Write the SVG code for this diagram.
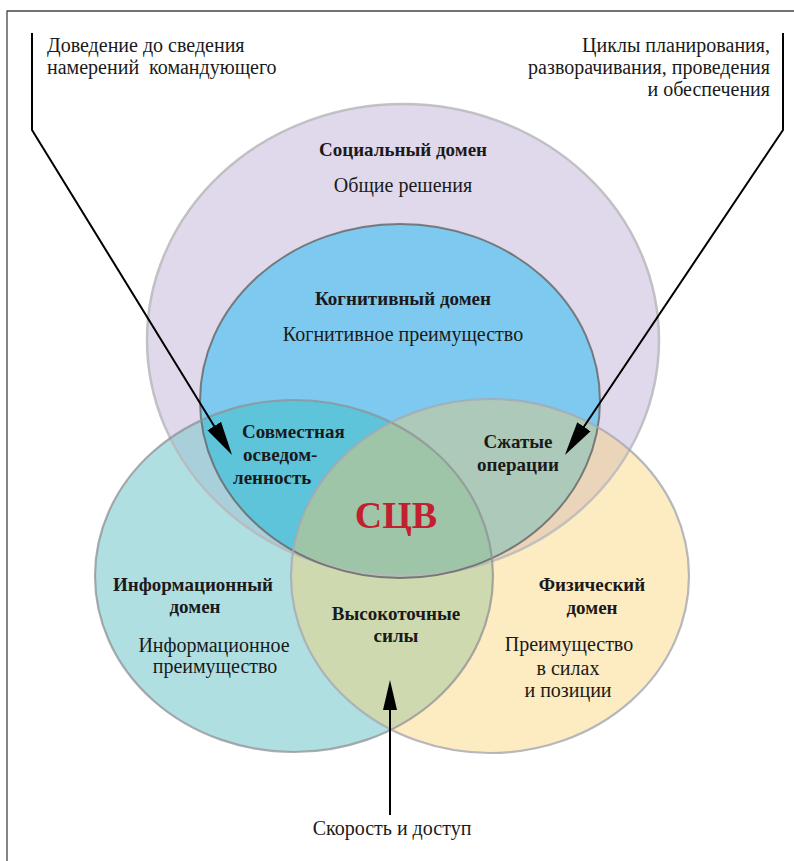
<svg xmlns="http://www.w3.org/2000/svg" width="794" height="861" viewBox="0 0 794 861" font-family="'Liberation Serif', 'DejaVu Serif', serif">
<style>
text{font-family:"Liberation Serif","DejaVu Serif",serif;fill:#1a1a1a;}
.b{font-weight:bold;font-size:19px;}
.r{font-size:20px;}
.m{text-anchor:middle;}
.e{text-anchor:end;}
.ncw{font-weight:bold;font-size:38px;fill:#c21f30;text-anchor:middle;}
.edge{fill:none;}
.conn{fill:none;stroke:#000;stroke-width:2;}
</style>
<defs>
<clipPath id="cInfo"><ellipse cx="294" cy="576" rx="199" ry="176"/></clipPath>
<clipPath id="cPhys"><ellipse cx="490" cy="576" rx="199" ry="177"/></clipPath>
<marker id="ah" markerUnits="userSpaceOnUse" markerWidth="36" markerHeight="18" refX="28" refY="9" orient="auto">
<path d="M0,1 L34,9 L0,17 z" fill="#000"/>
</marker>
<marker id="ahb" markerUnits="userSpaceOnUse" markerWidth="32" markerHeight="16" refX="20" refY="8" orient="auto">
<path d="M0,1 L30,8 L0,15 z" fill="#000"/>
</marker>
</defs>
<rect width="794" height="861" fill="#fff"/>
<path d="M7,861 V11 H794" fill="none" stroke="#444" stroke-width="1.3"/>

<g id="fills">
<ellipse cx="403" cy="340" rx="256" ry="236" fill="#e0d8eb"/>
<ellipse cx="400" cy="401" rx="200" ry="177" fill="#7dc9ef"/>
<ellipse cx="294" cy="576" rx="199" ry="176" fill="#b0dfe2"/>
<ellipse cx="490" cy="576" rx="199" ry="177" fill="#fdebc1"/>
<ellipse cx="403" cy="340" rx="256" ry="236" fill="#a9cfdb" clip-path="url(#cInfo)"/>
<ellipse cx="403" cy="340" rx="256" ry="236" fill="#ebd5ba" clip-path="url(#cPhys)"/>
<ellipse cx="294" cy="576" rx="199" ry="176" fill="#cfd9b0" clip-path="url(#cPhys)"/>
<ellipse cx="400" cy="401" rx="200" ry="177" fill="#5ec4da" clip-path="url(#cInfo)"/>
<ellipse cx="400" cy="401" rx="200" ry="177" fill="#acc9b9" clip-path="url(#cPhys)"/>
<g clip-path="url(#cInfo)"><ellipse cx="400" cy="401" rx="200" ry="177" fill="#9fc5a9" clip-path="url(#cPhys)"/></g>
</g>

<g id="social">
<ellipse class="edge" cx="403" cy="340" rx="256" ry="236" stroke="#b9b9bc" stroke-width="2.5" stroke-opacity="0.85"/>
<text class="b m" x="403" y="156">Социальный домен</text>
<text class="r m" x="403" y="192">Общие решения</text>
</g>
<g id="cognitive">
<ellipse class="edge" cx="400" cy="401" rx="200" ry="177" stroke="#6a6a6a" stroke-width="2" stroke-opacity="0.85"/>
<text class="b m" x="403" y="305">Когнитивный домен</text>
<text class="r m" x="403" y="341">Когнитивное преимущество</text>
</g>
<g id="information">
<ellipse class="edge" cx="294" cy="576" rx="199" ry="176" stroke="#8f9094" stroke-width="2.2" stroke-opacity="0.75"/>
<text class="b m" x="193" y="591">Информационный</text>
<text class="b m" x="195" y="613">домен</text>
<text class="r m" x="214" y="652">Информационное</text>
<text class="r m" x="215" y="673">преимущество</text>
</g>
<g id="physical">
<ellipse class="edge" cx="490" cy="576" rx="199" ry="177" stroke="#a4a8b4" stroke-width="2.2" stroke-opacity="0.8"/>
<text class="b m" x="592" y="591">Физический</text>
<text class="b m" x="592" y="614">домен</text>
<text class="r m" x="569" y="651">Преимущество</text>
<text class="r m" x="568" y="675">в силах</text>
<text class="r m" x="568" y="697">и позиции</text>
</g>
<g id="shared-awareness">
<text class="b" x="242" y="438">Совместная</text>
<text class="b" x="243" y="461">осведом-</text>
<text class="b" x="233" y="484">ленность</text>
</g>
<g id="compressed-ops">
<text class="b m" x="518" y="448">Сжатые</text>
<text class="b m" x="518" y="471">операции</text>
</g>
<g id="precision-forces">
<text class="b m" x="396" y="620">Высокоточные</text>
<text class="b m" x="396" y="642">силы</text>
</g>
<g id="ncw">
<text class="ncw" x="396" y="528">СЦВ</text>
</g>

<g id="note-left">
<text class="r" x="47" y="52">Доведение до сведения</text>
<text class="r" x="47" y="74" xml:space="preserve">намерений  командующего</text>
</g>
<g id="note-right">
<text class="r e" x="770" y="52">Циклы планирования,</text>
<text class="r e" x="770" y="74">разворачивания, проведения</text>
<text class="r e" x="770" y="96">и обеспечения</text>
</g>
<g id="note-bottom">
<text class="r m" x="392" y="835">Скорость и доступ</text>
</g>

<g id="connectors">
<polyline class="conn" points="32,33 32,130 228.9,449.9" marker-end="url(#ah)"/>
<polyline class="conn" points="783,33 783,130 568.3,450" marker-end="url(#ah)"/>
<line class="conn" x1="390" y1="815" x2="390" y2="690" stroke-width="3.5" marker-end="url(#ahb)"/>
</g>
</svg>
